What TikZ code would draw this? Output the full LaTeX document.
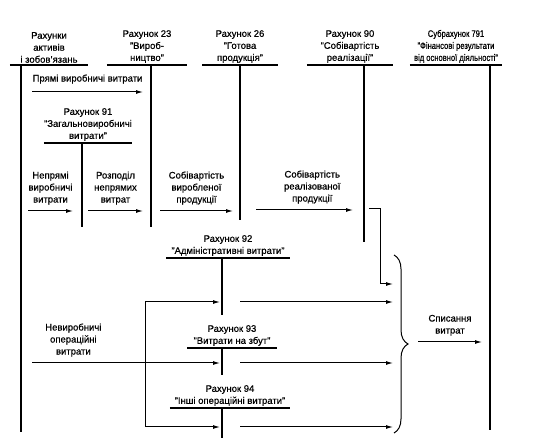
\documentclass[tikz,border=0pt]{standalone}
\usepackage{fontspec}
\setmainfont[FakeBold=0.6]{Liberation Sans}
\usetikzlibrary{arrows.meta,decorations.pathreplacing}
\newcommand\acctfont{\fontsize{9.5}{12}\selectfont}

\begin{document}
\begin{tikzpicture}[x=1pt, y=-1pt,
  acct/.style   = {align=center, anchor=south, inner xsep=0pt, inner ysep=2pt,
                   font=\acctfont},
  narrow/.style = {font=\acctfont\addfontfeatures{FakeStretch=0.8}},
  tline/.style  = {line width=1.4pt},
  arrow/.style  = {line width=1pt, -{Latex[length=7pt,width=4pt]}},
  lbl/.style    = {align=center, anchor=south, inner sep=0pt, yshift=6pt,
                   font=\acctfont},
  brc/.style    = {line width=1pt, decorate, decoration={brace, amplitude=14pt}},
]
  \useasboundingbox (0,0) rectangle (547,446);

  % accounts across the top
  \node[acct, minimum width=78pt] (r1) at (49,65) {Рахунки\\активів\\і зобов’язань};
  \node[acct, minimum width=80pt] (r23) at (147,65) {Рахунок 23\\"Вироб-\\ництво"};
  \node[acct, minimum width=75pt] (r26) at (240,65) {Рахунок 26\\"Готова\\продукція"};
  \node[acct, minimum width=86pt] (r90) at (350,65) {Рахунок 90\\"Собівартість\\реалізації"};
  \node[acct, narrow, minimum width=92pt] (r791) at (456,65)
    {Субрахунок 791\\"Фінансові результати\\від основної діяльності"};

  % cost accounts
  \node[acct, minimum width=79pt] (r91) at (88,143) {Рахунок 91\\"Загальновиробничі\\витрати"};
  \node[acct, minimum width=123pt] (r92) at (228,258) {Рахунок 92\\"Адміністративні витрати"};
  \node[acct, minimum width=89pt] (r93) at (232,348) {Рахунок 93\\"Витрати на збут"};
  \node[acct, minimum width=120pt] (r94) at (230,408) {Рахунок 94\\"Інші операційні витрати"};

  \foreach \a in {r1,r23,r26,r90,r791,r91,r92,r93,r94}
    \draw[tline] (\a.south west) -- (\a.south east);

  \coordinate (v1) at (21,432);
  \coordinate (v23) at (151,227);
  \coordinate (v26) at (240,220);
  \coordinate (v90) at (364,242);
  \coordinate (v791) at (490,430);
  \coordinate (v91) at (82,227);
  \coordinate (v92) at (222,315);
  \coordinate (v93) at (222,375);
  \coordinate (v94) at (222,438);

  \draw[tline] (v1 |- r1.south) -- (v1);
  \draw[tline] (v23 |- r23.south) -- (v23);
  \draw[tline] (v26 |- r26.south) -- (v26);
  \draw[tline] (v90 |- r90.south) -- (v90);
  \draw[tline] (v791 |- r791.south) -- (v791);
  \draw[tline] (v91 |- r91.south) -- (v91);
  \draw[tline] (v92 |- r92.south) -- (v92);
  \draw[tline] (v93 |- r93.south) -- (v93);
  \draw[tline] (v94 |- r94.south) -- (v94);

  % production flows
  \coordinate (a1s) at (32,92);   \coordinate (a1e) at (143,92);
  \coordinate (a2s) at (28,211);  \coordinate (a2e) at (73,211);
  \coordinate (a3s) at (88,211);  \coordinate (a3e) at (143,211);
  \coordinate (a4s) at (160,211); \coordinate (a4e) at (233,211);
  \coordinate (a5s) at (256,210); \coordinate (a5e) at (353,210);

  \draw[arrow] (a1s) -- node[lbl, yshift=2pt] (t1) {Прямі виробничі витрати} (a1e);
  \draw[arrow] (a2s) -- node[lbl] (t2) {Непрямі\\виробничі\\витрати} (a2e);
  \draw[arrow] (a3s) -- node[lbl] (t3) {Розподіл\\непрямих\\витрат} (a3e);
  \draw[arrow] (a4s) -- node[lbl] (t4) {Собівартість\\виробленої\\продукції} (a4e);
  \draw[arrow] (a5s) -- node[lbl, pos=0.58] (t5) {Собівартість\\реалізованої\\продукції} (a5e);

  \coordinate (b1) at (369,209);
  \coordinate (b2) at (393,284);
  \draw[arrow] (b1) -- ++(11,0) |- (b2);

  % non-production costs
  \coordinate (n0) at (32,363);
  \coordinate (fork) at (145,363);
  \coordinate (in92) at (220,302);
  \coordinate (in93) at (220,363);
  \coordinate (in94) at (220,427);

  \draw[arrow] (n0) -- node[lbl, pos=0.22] (t6) {Невиробничі\\операційні\\витрати} (in93);
  \draw[arrow] (fork) |- (in92);
  \draw[arrow] (fork) |- (in94);

  \foreach \n/\y in {92/302, 93/363, 94/427} {
    \coordinate (o\n) at (240,\y);
    \coordinate (e\n) at (393,\y);
    \draw[arrow] (o\n) -- (e\n);
  }

  % write-off
  \coordinate (brt) at (394,255);
  \coordinate (brb) at (394,433);
  \draw[brc] (brt) -- (brb);

  \coordinate (s1) at (418,342);
  \coordinate (s2) at (482,342);
  \draw[arrow] (s1) -- node[lbl] (t7) {Списання\\витрат} (s2);
\end{tikzpicture}
\end{document}
